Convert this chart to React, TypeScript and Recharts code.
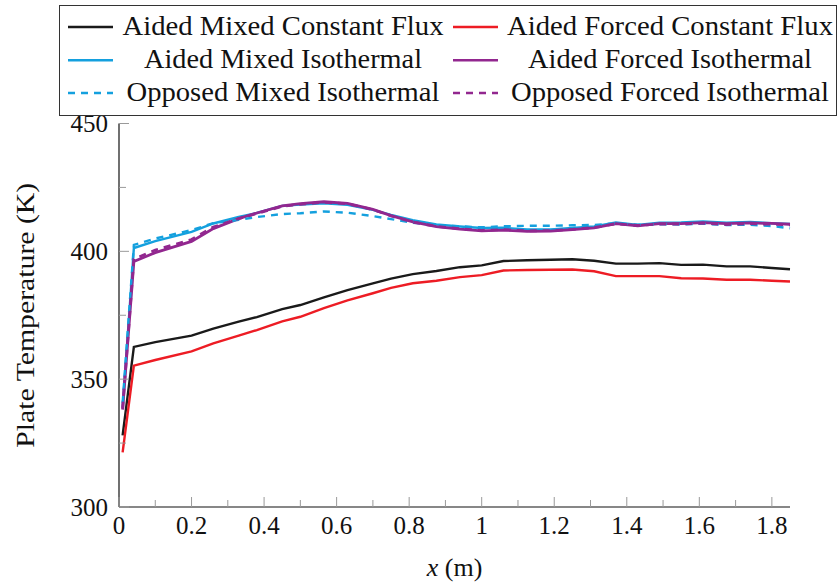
import { Legend, Line, LineChart, XAxis, YAxis } from "recharts";

const xPositions = [
  0.01, 0.041, 0.1, 0.2, 0.26, 0.33, 0.38, 0.45, 0.5, 0.565, 0.63, 0.7, 0.75, 0.81, 0.875, 0.94,
  1.0, 1.06, 1.125, 1.19, 1.25, 1.31, 1.37, 1.43, 1.49, 1.55, 1.61, 1.675, 1.74, 1.8, 1.85
];

const aidedMixedFlux = [
  328, 362.6, 364.5, 367, 369.8, 372.5, 374.3, 377.4, 379, 382, 384.8, 387.5, 389.3, 391.1, 392.3, 393.8,
  394.5, 396.2, 396.5, 396.7, 396.9, 396.3, 395.2, 395.2, 395.4, 394.7, 394.8, 394.1, 394.1, 393.5, 393.0
];
const aidedForcedFlux = [
  321.4, 355.3, 357.5, 360.9, 364, 367, 369.2, 372.6, 374.4, 377.8, 380.8, 383.6, 385.7, 387.5, 388.5, 389.9,
  390.7, 392.5, 392.7, 392.8, 392.9, 392.2, 390.3, 390.3, 390.3, 389.5, 389.4, 388.9, 388.9, 388.5, 388.2
];
const aidedMixedIso = [
  339, 401.3, 404, 407.6, 410.9, 413.5, 415, 417.8, 418.3, 418.8, 418.2, 416.2, 414.2, 412.2, 410.5, 409.7,
  409.1, 409.2, 408.6, 408.6, 409.1, 409.7, 411.3, 410.3, 411.2, 411.3, 411.7, 411.2, 411.5, 411.0, 410.7
];
const aidedForcedIso = [
  338.1, 396.0, 399.5, 403.9, 408.9, 412.8, 415, 417.8, 418.7, 419.4, 418.8, 416.4, 414, 411.5, 409.7, 408.7,
  408.0, 408.3, 407.8, 407.9, 408.5, 409.2, 410.8, 410, 410.8, 410.8, 411.2, 410.8, 411.1, 410.9, 410.6
];
const opposedMixedIso = [
  340.7, 402.5, 405, 408.3, 411, 412.3, 413.4, 414.6, 414.9, 415.6, 415.1, 413.8, 412.6, 411.2, 410.3, 409.8,
  409.4, 409.8, 410.0, 410.0, 410.2, 410.3, 410.9, 410.4, 410.6, 410.5, 410.8, 410.3, 410.4, 409.9, 409.0
];
const opposedForcedIso = [
  338.5, 397, 400.5, 404.6, 409.5, 412.8, 414.8, 417.6, 418.4, 419.2, 418.6, 416.3, 413.9, 411.4, 409.8, 408.8,
  408.2, 408.5, 408.0, 408.1, 408.6, 409.3, 410.8, 410.1, 410.7, 410.7, 411.0, 410.5, 410.8, 410.6, 410.3
];

const xTicks = [0, 0.1, 0.2, 0.3, 0.4, 0.5, 0.6, 0.7, 0.8, 0.9, 1, 1.1, 1.2, 1.3, 1.4, 1.5, 1.6, 1.7, 1.8];
const yTicks = [300, 325, 350, 375, 400, 425, 450];

const series = [
  { key: "amf", name: "Aided Mixed Constant Flux", values: aidedMixedFlux, color: "#1a1a1a", dash: undefined },
  { key: "aff", name: "Aided Forced Constant Flux", values: aidedForcedFlux, color: "#ed1c24", dash: undefined },
  { key: "ami", name: "Aided Mixed Isothermal", values: aidedMixedIso, color: "#14a0de", dash: undefined },
  { key: "afi", name: "Aided Forced Isothermal", values: aidedForcedIso, color: "#92278f", dash: undefined },
  { key: "omi", name: "Opposed Mixed Isothermal", values: opposedMixedIso, color: "#14a0de", dash: "7 6" },
  { key: "ofi", name: "Opposed Forced Isothermal", values: opposedForcedIso, color: "#92278f", dash: "7 6" }
];

const rows = xPositions.map((x, i) => {
  const row: Record<string, number> = { x };
  series.forEach((s) => {
    row[s.key] = s.values[i];
  });
  return row;
});

const FONT = "Liberation Serif, Times New Roman, serif";
const textStyle = { fontFamily: FONT };
const TICK_COLOR = "#9a9a9a";

function isMajorX(v: number) {
  return Math.abs(v * 5 - Math.round(v * 5)) < 1e-6;
}

function formatX(v: number) {
  return String(Math.round(v * 10) / 10);
}

function BottomTick(props: any) {
  const { x, y, payload } = props;
  const major = isMajorX(payload.value);
  return (
    <g>
      <line x1={x} x2={x} y1={y} y2={y - (major ? 10 : 7)} stroke={TICK_COLOR} strokeWidth={1} />
      {major && (
        <text x={x} y={y + 26.5} textAnchor="middle" style={textStyle} fontSize={25} fill="#111">
          {formatX(payload.value)}
        </text>
      )}
    </g>
  );
}

function TopTick(props: any) {
  const { x, y, payload } = props;
  const major = isMajorX(payload.value);
  return <line x1={x} x2={x} y1={y} y2={y + (major ? 10 : 7)} stroke={TICK_COLOR} strokeWidth={1} />;
}

function LeftTick(props: any) {
  const { x, y, payload } = props;
  const major = payload.value % 50 === 0;
  return (
    <g>
      <line x1={x} x2={x + (major ? 10 : 7)} y1={y} y2={y} stroke={TICK_COLOR} strokeWidth={1} />
      {major && (
        <text x={x - 11} y={y + 8.5} textAnchor="end" style={textStyle} fontSize={25} fill="#111">
          {payload.value}
        </text>
      )}
    </g>
  );
}

function RightTick(props: any) {
  const { x, y, payload } = props;
  const major = payload.value % 50 === 0;
  return <line x1={x} x2={x - (major ? 10 : 7)} y1={y} y2={y} stroke={TICK_COLOR} strokeWidth={1} />;
}

function YLabel(props: any) {
  const { viewBox } = props;
  const cy = viewBox.y + viewBox.height / 2;
  return (
    <text
      x={34}
      y={cy}
      transform={`rotate(-90, 34, ${cy})`}
      textAnchor="middle"
      style={textStyle}
      fontSize={26}
      fill="#111"
      textLength={265}
      lengthAdjust="spacingAndGlyphs"
    >
      Plate Temperature (K)
    </text>
  );
}

function XLabel(props: any) {
  const { viewBox } = props;
  const cx = viewBox.x + viewBox.width / 2;
  return (
    <text x={cx} y={576} textAnchor="middle" style={textStyle} fontSize={26} fill="#111">
      <tspan fontStyle="italic">x</tspan> (m)
    </text>
  );
}

const legendCols = [
  { lineX: 68, textX: 283 },
  { lineX: 453, textX: 670 }
];
const legendWidths = [321, 326, 278, 284, 313, 318];
const legendBaselines = [35, 68.3, 101];

function LegendBox() {
  return (
    <svg width={839} height={120} style={{ display: "block" }}>
      <rect x={59.5} y={5.5} width={777} height={110} fill="#fff" stroke="#333" strokeWidth={1} />
      {series.map((s, i) => {
        const col = legendCols[i % 2];
        const row = Math.floor(i / 2);
        const base = legendBaselines[row];
        const ly = base - 8;
        return (
          <g key={s.key}>
            <line
              x1={col.lineX}
              x2={col.lineX + 45}
              y1={ly}
              y2={ly}
              stroke={s.color}
              strokeWidth={2.5}
              strokeDasharray={s.dash}
            />
            <text
              x={col.textX}
              y={base}
              textAnchor="middle"
              style={textStyle}
              fontSize={27}
              fill="#111"
              textLength={legendWidths[i]}
              lengthAdjust="spacingAndGlyphs"
            >
              {s.name}
            </text>
          </g>
        );
      })}
    </svg>
  );
}

export default function App() {
  return (
    <div style={{ position: "absolute", left: 0, top: 0, width: 839, height: 585, background: "#fff" }}>
      <LineChart width={839} height={585} data={rows} margin={{ top: 123.5, right: 49, bottom: 0, left: 0 }}>
        <XAxis
          dataKey="x"
          type="number"
          domain={[0, 1.85]}
          ticks={xTicks}
          interval={0}
          height={78}
          tickSize={0}
          tickMargin={0}
          tick={BottomTick}
          axisLine={{ stroke: "#111", strokeWidth: 1.2 }}
          label={<XLabel />}
        />
        <XAxis
          xAxisId="top"
          orientation="top"
          dataKey="x"
          type="number"
          domain={[0, 1.85]}
          ticks={xTicks}
          interval={0}
          height={0}
          tickSize={0}
          tickMargin={0}
          tick={TopTick}
          axisLine={{ stroke: "#111", strokeWidth: 1.2 }}
        />
        <YAxis
          type="number"
          domain={[300, 450]}
          ticks={yTicks}
          interval={0}
          width={119}
          tickSize={0}
          tickMargin={0}
          tick={LeftTick}
          axisLine={{ stroke: "#111", strokeWidth: 1.2 }}
          label={<YLabel />}
        />
        <YAxis
          yAxisId="right"
          orientation="right"
          type="number"
          domain={[300, 450]}
          ticks={yTicks}
          interval={0}
          width={0}
          tickSize={0}
          tickMargin={0}
          tick={RightTick}
          axisLine={{ stroke: "#111", strokeWidth: 1.2 }}
        />
        <Legend
          layout="horizontal"
          verticalAlign="middle"
          align="center"
          wrapperStyle={{ position: "absolute", top: 0, left: 0, width: 839, height: 120 }}
          content={() => <LegendBox />}
        />
        {series.map((s) => (
          <Line
            key={s.key}
            dataKey={s.key}
            name={s.name}
            type="linear"
            stroke={s.color}
            strokeWidth={s.color === "#92278f" ? 2.8 : 2.4}
            strokeDasharray={s.dash}
            dot={false}
            activeDot={false}
            isAnimationActive={false}
          />
        ))}
      </LineChart>
    </div>
  );
}
